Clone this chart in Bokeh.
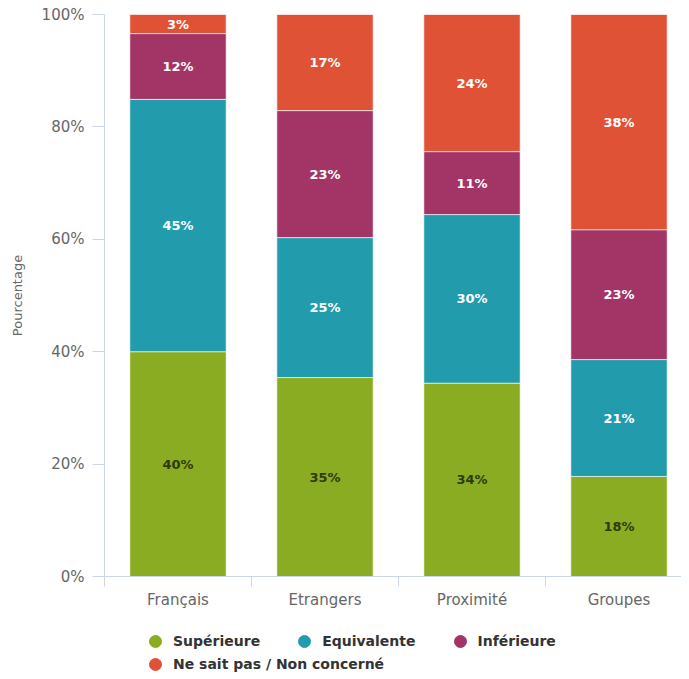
from bokeh.plotting import figure
from bokeh.layouts import column
from bokeh.models import (ColumnDataSource, Range1d, FixedTicker, Legend, LegendItem,
                          LabelSet)
from bokeh.core.properties import value
from bokeh.embed import file_html
from bokeh.resources import INLINE

categories = ["Français", "Etrangers", "Proximité", "Groupes"]
series_names = ["Supérieure", "Equivalente", "Inférieure", "Ne sait pas / Non concerné"]
superieure = [40.0, 35.4, 34.4, 17.8]
equivalente = [44.9, 24.9, 30.0, 20.8]
inferieure = [11.7, 22.6, 11.2, 23.1]
ne_sait_pas = [3.4, 17.1, 24.4, 38.3]
y_ticks = [0, 20, 40, 60, 80, 100]
colors = ["#8aac22", "#229cac", "#a23566", "#e05236"]
label_colors = ["#2f3a10", "#ffffff", "#ffffff", "#ffffff"]

FONT = "DejaVu Sans"

W = 681
left, top = 104, 14
frame_h = 562
H1 = 614
H2 = 65
px_per_cat = 147.0

p = figure(width=W, height=H1, output_backend="svg", toolbar_location=None,
           x_range=Range1d(0, (W - left) / px_per_cat), y_range=Range1d(0, 100),
           min_border_left=left, min_border_top=top, min_border_right=0,
           min_border_bottom=H1 - top - frame_h)
p.outline_line_color = None
p.xgrid.grid_line_color = None
p.ygrid.grid_line_color = None

xs = [i + 0.5 for i in range(len(categories))]
all_series = [superieure, equivalente, inferieure, ne_sait_pas]
bottoms = [0.0] * len(categories)
for vals, col, lcol in zip(all_series, colors, label_colors):
    tops = [b + v for b, v in zip(bottoms, vals)]
    mids = [(b + t) / 2 for b, t in zip(bottoms, tops)]
    src = ColumnDataSource(dict(x=xs, bottom=bottoms, top=tops, mid=mids,
                                lab=[f"{round(v)}%" for v in vals]))
    p.vbar(x="x", bottom="bottom", top="top", width=0.655, source=src,
           fill_color=col, line_color="#ffffff", line_width=1, line_alpha=0.6)
    p.add_layout(LabelSet(x="x", y="mid", text="lab", source=src,
                          text_align="center", text_baseline="middle",
                          text_font=value(FONT), text_font_size="13px",
                          text_font_style="bold", text_color=lcol))
    bottoms = tops

# axes
p.xaxis.ticker = FixedTicker(ticks=xs, minor_ticks=[0, 1, 2, 3, 4])
p.xaxis.major_label_overrides = {x: c for x, c in zip(xs, categories)}
p.xaxis.major_tick_out = 0
p.xaxis.major_tick_in = 0
p.xaxis.minor_tick_out = 10
p.xaxis.minor_tick_in = 0
p.xaxis.minor_tick_line_color = "#ccd6eb"
p.xaxis.axis_line_color = "#ccd6eb"
p.xaxis.major_label_text_font = FONT
p.xaxis.major_label_text_font_size = "15px"
p.xaxis.major_label_text_color = "#666666"
p.xaxis.major_label_standoff = 4

p.yaxis.ticker = FixedTicker(ticks=y_ticks)
p.yaxis.major_label_overrides = {t: f"{t}%" for t in y_ticks}
p.yaxis.major_tick_out = 12
p.yaxis.major_tick_in = 0
p.yaxis.minor_tick_line_color = None
p.yaxis.major_tick_line_color = "#ccd6eb"
p.yaxis.axis_line_color = "#ccd6eb"
p.yaxis.major_label_text_font = FONT
p.yaxis.major_label_text_font_size = "15px"
p.yaxis.major_label_text_color = "#666666"
p.yaxis.major_label_standoff = 8
p.yaxis.axis_label = "Pourcentage"
p.yaxis.axis_label_text_font = FONT
p.yaxis.axis_label_text_font_size = "13px"
p.yaxis.axis_label_text_font_style = "normal"
p.yaxis.axis_label_text_color = "#666666"
p.yaxis.axis_label_standoff = 14

# legend figure (two rows)
lf = figure(width=W, height=H2, output_backend="svg", toolbar_location=None,
            x_axis_type=None, y_axis_type=None, min_border=0,
            x_range=Range1d(0, 1), y_range=Range1d(0, 1))
lf.outline_line_color = None
lf.xgrid.grid_line_color = None
lf.ygrid.grid_line_color = None
rends = []
for col in colors:
    rends.append(lf.scatter(x=[float("nan")], y=[float("nan")], marker="circle",
                            size=13, fill_color=col, line_color=col))

common = dict(orientation="horizontal", label_text_font=FONT,
              label_text_font_size="14px", label_text_font_style="bold",
              label_text_color="#333333",
              border_line_color=None, background_fill_alpha=0, margin=0,
              padding=0, spacing=28, glyph_width=32, glyph_height=30,
              label_height=30, label_standoff=2)
leg1 = Legend(items=[LegendItem(label=n, renderers=[r])
                     for n, r in zip(series_names[:3], rends[:3])],
              location=(35, 23), **common)
leg2 = Legend(items=[LegendItem(label=series_names[3], renderers=[rends[3]])],
              location=(35, 0), **common)
lf.add_layout(leg1)
lf.add_layout(leg2)

layout = column(p, lf, spacing=0)
html = file_html(layout, INLINE)
open("out.html", "w").write(html)
